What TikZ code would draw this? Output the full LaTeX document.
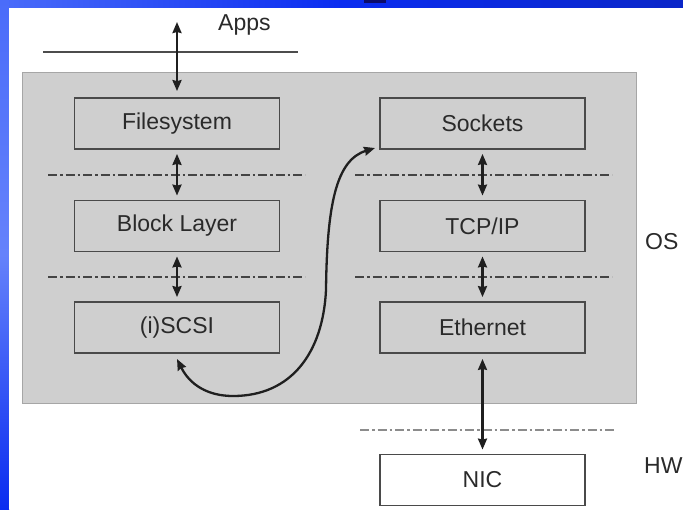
\documentclass[tikz,border=0pt]{standalone}
\usepackage{fontspec}
\setmainfont{Liberation Sans}
\usetikzlibrary{arrows.meta}

\definecolor{slideblue}{HTML}{0A2CF0}
\definecolor{slidelight}{HTML}{4A6CFA}
\definecolor{slidedeep}{HTML}{0A26C8}
\definecolor{titlenavy}{HTML}{0C0C6A}
\definecolor{osgray}{HTML}{CFCFCF}
\definecolor{osedge}{HTML}{A6A6A6}
\definecolor{boxedge}{HTML}{4A4A4A}
\definecolor{inktext}{HTML}{2A2A2A}
\definecolor{sepline}{HTML}{444444}

\tikzset{
  layerbox/.style={draw=boxedge, line width=1.8pt, minimum width=205pt,
    minimum height=51pt, inner sep=0pt, text=inktext,
    font=\fontsize{23}{26}\selectfont},
  label/.style={text=inktext, inner sep=0pt, font=\fontsize{23}{26}\selectfont},
  sep/.style={draw=sepline, line width=1.8pt,
    dash pattern=on 9pt off 3pt on 2.5pt off 3pt},
  tip/.style={Stealth[length=11pt,width=9pt,inset=1pt]},
  flow/.style={draw=black!88, line width=2.3pt, {Stealth[length=11pt,width=9pt,inset=1pt]}-{Stealth[length=11pt,width=9pt,inset=1pt]}},
}

\begin{document}
\begin{tikzpicture}[x=1pt, y=-1pt]
  \useasboundingbox (0,0) rectangle (683,509);

  % slide frame: blue band on top and left
  \shade[left color=slidelight, right color=slidedeep, middle color=slideblue]
    (0,0) rectangle (683,8);
  \shade[top color=slidelight, bottom color=slideblue, middle color=slidelight!85!white]
    (0,0) rectangle (9,509);
  \fill[white] (9,7.5) rectangle (683,509);
  \fill[titlenavy] (364,0) rectangle (386,3);

  % OS area
  \fill[osgray, draw=osedge, line width=1.5pt] (22.5,72.5) rectangle (636.5,403.5);

  % storage stack
  \node[layerbox] (fs)    at (177,123.5) {Filesystem};
  \node[layerbox] (block) at (177,226)   {Block Layer};
  \node[layerbox] (scsi)  at (177,327.5) {(i)SCSI};

  % network stack
  \node[layerbox] (sock)  at (482.5,123.5) {Sockets};
  \node[layerbox] (tcp)   at (482.5,226)   {TCP/IP};
  \node[layerbox] (eth)   at (482.5,327.5) {Ethernet};
  \node[layerbox, fill=white] (nic) at (482.5,480) {NIC};

  % labels
  \node[label, anchor=base west] (apps) at (218,30) {Apps};
  \node[label, anchor=base west] (os)   at (645,249) {OS};
  \node[label, anchor=base west] (hw)   at (644,473) {HW};

  % layer separators
  \coordinate (lineL) at (43,52);
  \coordinate (lineR) at (298,52);
  \draw[draw=black!70, line width=1.8pt] (lineL) -- (lineR);
  \coordinate (s1a) at (48,175);  \coordinate (s1b) at (305,175);
  \coordinate (s2a) at (48,277);  \coordinate (s2b) at (305,277);
  \coordinate (s3a) at (355,175); \coordinate (s3b) at (612,175);
  \coordinate (s4a) at (355,277); \coordinate (s4b) at (612,277);
  \coordinate (s5a) at (360,430); \coordinate (s5b) at (616,430);
  \draw[sep] (s1a) -- (s1b);
  \draw[sep] (s2a) -- (s2b);
  \draw[sep] (s3a) -- (s3b);
  \draw[sep] (s4a) -- (s4b);
  \draw[sep, draw=black!45] (s5a) -- (s5b);

  % vertical flows
  \coordinate (appstop) at (177,22);
  \draw[flow, shorten >=6pt] (appstop) -- (fs.north);
  \draw[flow, shorten <=4pt, shorten >=4pt] (fs.south) -- (block.north);
  \draw[flow, shorten <=4pt, shorten >=4pt] (block.south) -- (scsi.north);
  \draw[flow, shorten <=4pt, shorten >=4pt] (sock.south) -- (tcp.north);
  \draw[flow, shorten <=4pt, shorten >=4pt] (tcp.south) -- (eth.north);
  \draw[flow, shorten <=5pt, shorten >=4pt] (eth.south) -- (nic.north);

  % cross-stack path from (i)SCSI to Sockets
  \coordinate (scsitip) at (177,359);
  \coordinate (loopbot) at (233,396);
  \coordinate (looprise) at (326,290);
  \coordinate (socktip) at (375,148);
  \draw[flow]
    (scsitip) .. controls (190,385) and (208,396) .. (loopbot)
              .. controls (292,396) and (323,352) .. (looprise)
              .. controls (327,205) and (336,160) .. (socktip);
\end{tikzpicture}
\end{document}
